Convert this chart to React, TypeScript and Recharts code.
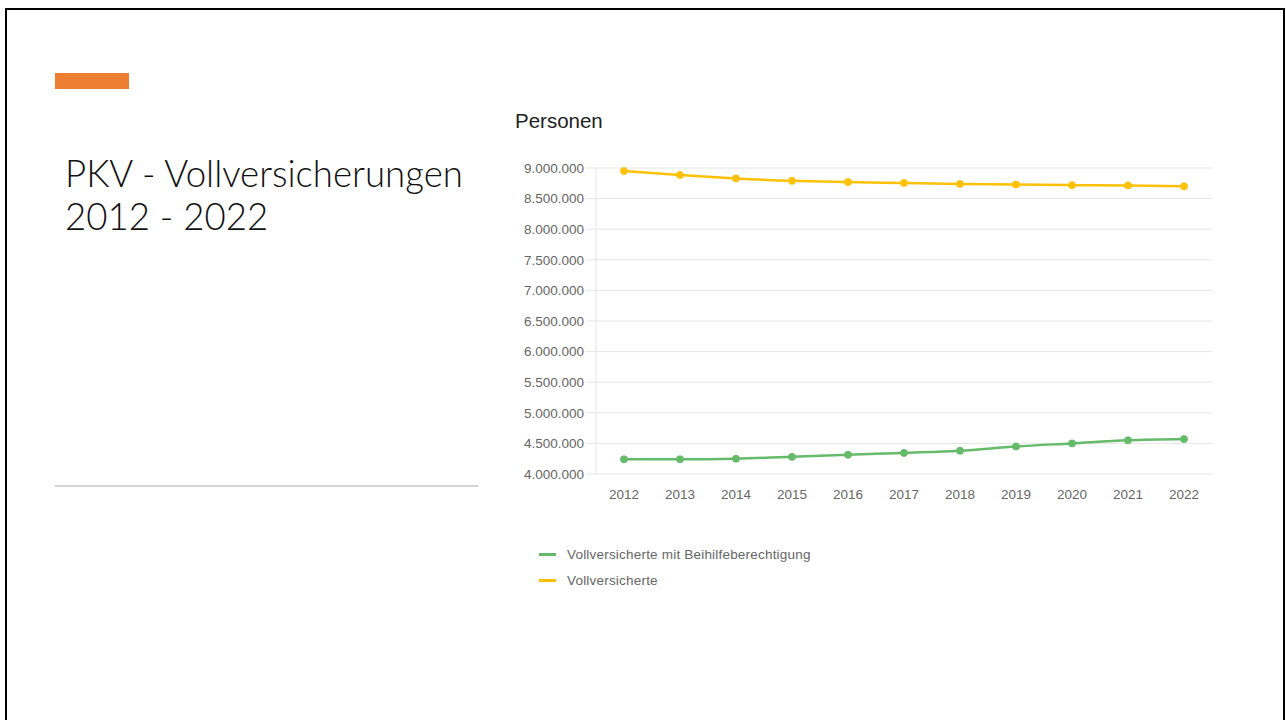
import { LineChart, Line, XAxis, YAxis, CartesianGrid } from "recharts";

const years = ["2012", "2013", "2014", "2015", "2016", "2017", "2018", "2019", "2020", "2021", "2022"];
const beihilfe = [4240000, 4240000, 4250000, 4280000, 4315000, 4345000, 4380000, 4450000, 4500000, 4550000, 4570000];
const voll = [8950000, 8886000, 8830000, 8790000, 8770000, 8755000, 8740000, 8730000, 8720000, 8715000, 8700000];
const yTicks = [4000000, 4500000, 5000000, 5500000, 6000000, 6500000, 7000000, 7500000, 8000000, 8500000, 9000000];

const series = [
  { key: "beihilfe", name: "Vollversicherte mit Beihilfeberechtigung", color: "#66bb6a" },
  { key: "voll", name: "Vollversicherte", color: "#ffc107" },
];

const data = years.map((year, i) => ({ year, beihilfe: beihilfe[i], voll: voll[i] }));

const fmt = (v: number) => String(v).replace(/\B(?=(\d{3})+(?!\d))/g, ".");

const tickStyle = { fontSize: 13.5, fill: "#666", fontFamily: "Liberation Sans, Arial, sans-serif" };

export default function App() {
  return (
    <div style={{ position: "fixed", left: 0, top: 0, width: 1286, height: 720, background: "#fff", overflow: "hidden" }}>
      {/* slide frame */}
      <div style={{ position: "absolute", left: 5, top: 8, width: 1276, height: 720, border: "2px solid #000" }} />
      <div style={{ position: "absolute", left: 55, top: 73, width: 74, height: 16, background: "#ed7d31" }} />
      <div
        style={{
          position: "absolute",
          left: 65,
          top: 152,
          fontFamily: "Lato, sans-serif",
          fontWeight: 300,
          fontSize: 36.6,
          lineHeight: "43px",
          color: "#111",
        }}
      >
        PKV - Vollversicherungen
        <br />
        2012 - 2022
      </div>
      <div style={{ position: "absolute", left: 55, top: 485, width: 423, height: 2, background: "#d4d4d4" }} />

      <div
        style={{
          position: "absolute",
          left: 515,
          top: 109,
          fontFamily: "Liberation Sans, Arial, sans-serif",
          fontSize: 20.5,
          color: "#222",
        }}
      >
        Personen
      </div>

      <div style={{ position: "absolute", left: 500, top: 100 }}>
        <LineChart width={720} height={404} data={data} margin={{ top: 68, right: 8, bottom: 0, left: 0 }}>
          <CartesianGrid vertical={false} stroke="#e6e6e6" />
          <XAxis
            dataKey="year"
            height={30}
            axisLine={false}
            tickLine={false}
            tickSize={6}
            tickMargin={9}
            tick={tickStyle}
            interval={0}
            padding={{ left: 28, right: 28 }}
          />
          <YAxis
            width={96}
            domain={[4000000, 9000000]}
            ticks={yTicks}
            tickFormatter={fmt}
            axisLine={{ stroke: "#e6e6e6" }}
            tickLine={{ stroke: "#e6e6e6" }}
            tickSize={10}
            tickMargin={2}
            tick={tickStyle}
            interval={0}
          />
          {series.map((s) => (
            <Line
              key={s.key}
              dataKey={s.key}
              name={s.name}
              type="monotone"
              stroke={s.color}
              strokeWidth={2.5}
              dot={{ r: 3.5, fill: s.color, stroke: s.color, strokeWidth: 1 }}
              isAnimationActive={false}
            />
          ))}
        </LineChart>
      </div>

      <div
        style={{
          position: "absolute",
          left: 539,
          top: 541,
          fontFamily: "Liberation Sans, Arial, sans-serif",
          fontSize: 13.5,
          letterSpacing: 0.2,
          color: "#666",
        }}
      >
        {series.map((s) => (
          <div key={s.key} style={{ display: "flex", alignItems: "center", height: 26 }}>
            <span style={{ display: "inline-block", width: 17, height: 3, background: s.color, marginRight: 11 }} />
            {s.name}
          </div>
        ))}
      </div>
    </div>
  );
}
